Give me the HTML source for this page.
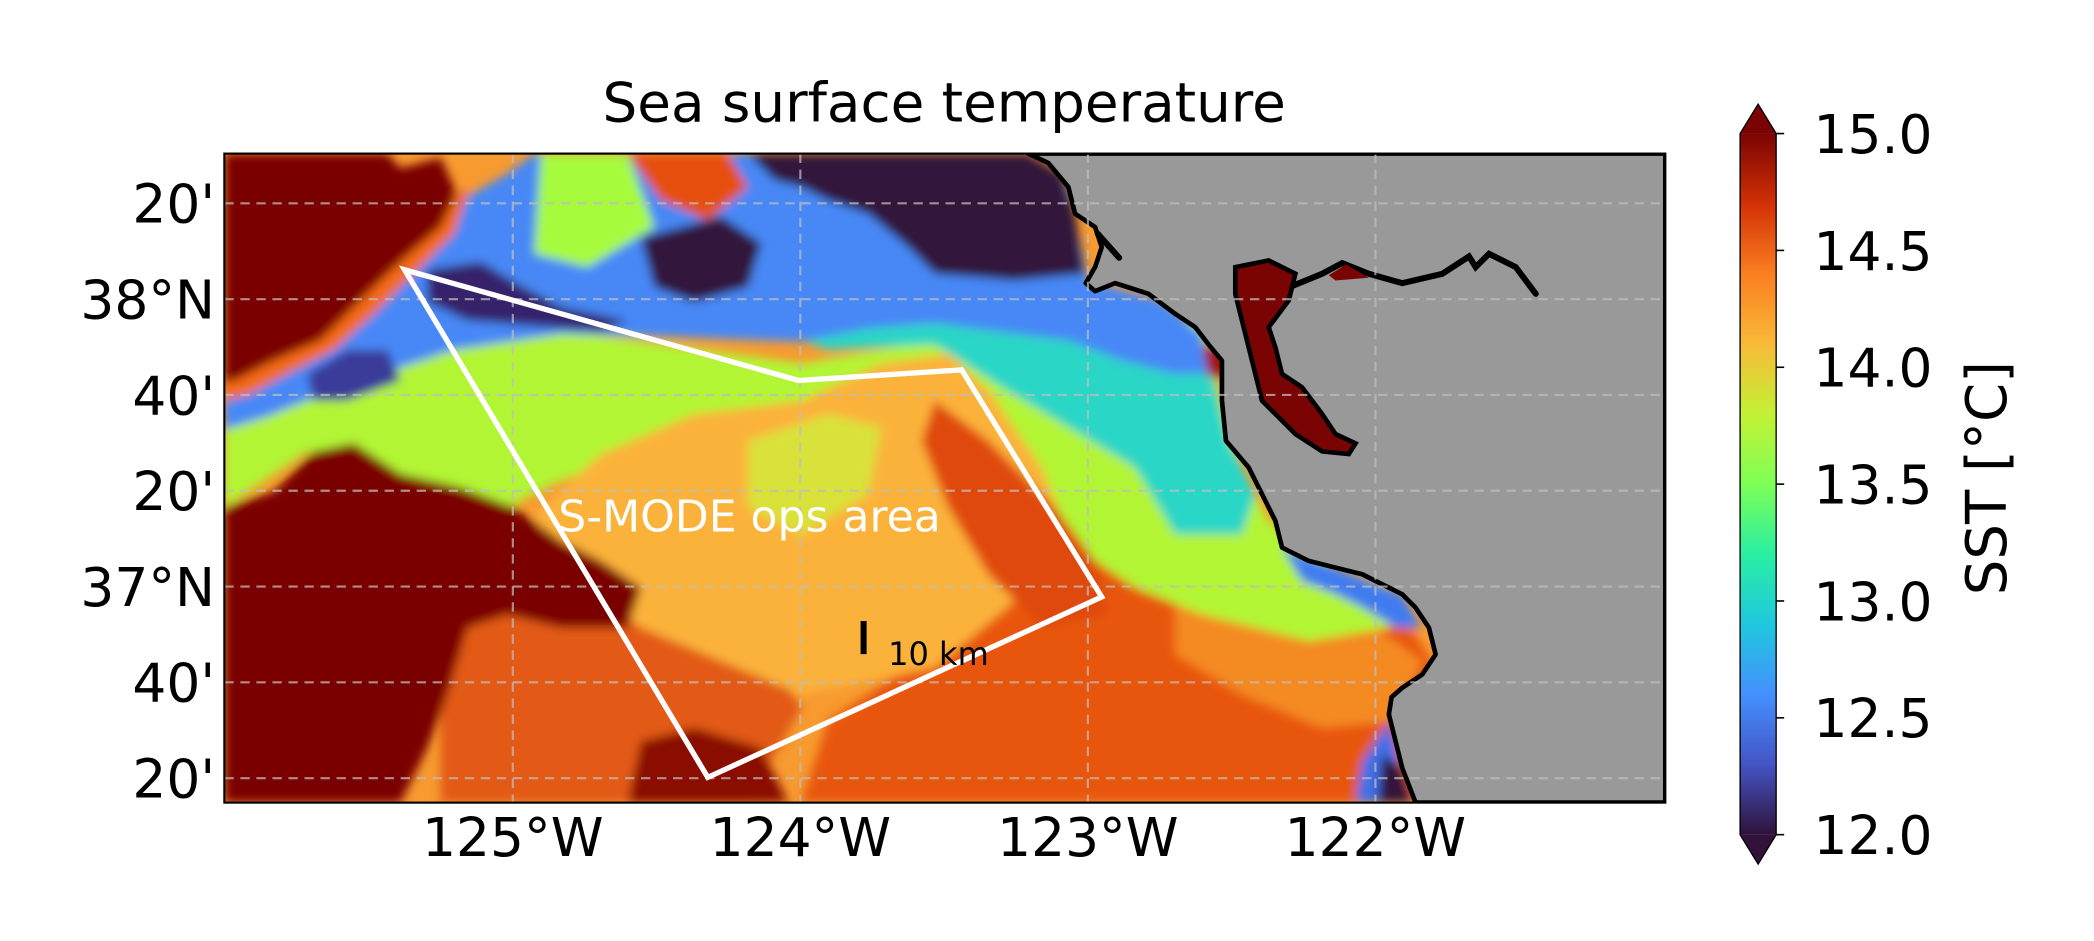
<!DOCTYPE html>
<html><head><meta charset="utf-8"><style>
html,body{margin:0;padding:0;background:#fff;}
svg{display:block;font-family:"DejaVu Sans","Liberation Sans",sans-serif;}
</style></head><body>
<svg id="fig" width="2094" height="941" viewBox="0 0 1568 704.6" xmlns="http://www.w3.org/2000/svg">
<defs>
  <clipPath id="axclip"><rect x="168" y="115" width="1079" height="486"/></clipPath>
  <filter id="blur" x="-5%" y="-5%" width="110%" height="110%"><feGaussianBlur stdDeviation="3.5"/></filter>
  <linearGradient id="turbo" x1="0" y1="1" x2="0" y2="0">
    <stop offset="0" stop-color="#30123b"/><stop offset="0.1" stop-color="#4454c4"/>
    <stop offset="0.2" stop-color="#4490fe"/><stop offset="0.3" stop-color="#1fc8de"/>
    <stop offset="0.4" stop-color="#29efa2"/><stop offset="0.5" stop-color="#7eff55"/>
    <stop offset="0.6" stop-color="#c3f134"/><stop offset="0.7" stop-color="#f9ba38"/>
    <stop offset="0.8" stop-color="#fb7e21"/><stop offset="0.9" stop-color="#d23105"/>
    <stop offset="1" stop-color="#7a0403"/>
  </linearGradient>
</defs>
<text x="707" y="91" font-size="41" text-anchor="middle" fill="#000">Sea surface temperature</text>

<g clip-path="url(#axclip)">
 <rect x="168" y="115" width="1079" height="486" fill="#f79a30"/>
 <g filter="url(#blur)">
  <polygon fill="#e8560e" points="700,300 760,330 800,380 840,400 900,420 980,440 1050,460 1075,500 1050,540 1060,601 600,601 620,540 680,500 720,460 700,400 680,340"/>
  <polygon fill="#f48a24" points="880,445 960,455 1030,470 1065,495 1045,540 990,545 930,520 880,490"/>
  <polygon fill="#e25a12" points="330,450 480,440 560,470 600,530 560,601 330,601"/>
  <polygon fill="#b2f536" points="168,318 230,292 300,258 400,245 500,258 600,272 700,255 800,235 900,240 915,300 930,350 950,390 1000,425 1040,440 1060,460 1040,470 980,480 900,460 850,440 820,420 790,380 750,330 720,300 650,290 600,310 500,330 420,360 380,380 300,355 230,338 168,380"/>
  <polygon fill="#fbb23a" points="400,385 450,340 520,310 600,300 660,272 710,265 740,292 780,350 800,400 760,450 700,500 600,520 480,470 420,425"/>
  <polygon fill="#d9e23a" points="560,330 620,310 660,320 650,370 600,400 560,380"/>
  <polygon fill="#e04a0b" points="700,300 740,330 790,380 820,420 830,460 780,470 740,430 710,380 690,330"/>
  <polygon fill="#7a0403" points="168,380 205,368 235,338 265,332 300,355 345,365 385,380 420,405 450,420 480,440 470,470 420,470 380,460 350,470 335,520 320,560 300,601 168,601"/>
  <polygon fill="#8a0a03" points="480,555 520,545 570,560 590,601 470,601"/>
  <polygon fill="#2bd6c6" points="560,240 650,230 800,220 880,240 905,270 920,330 940,370 930,400 880,400 850,350 800,320 750,290 700,258 620,262"/>
  <polygon fill="#4688f6" points="168,292 200,276 250,250 300,205 330,175 345,150 380,130 400,115 770,115 800,140 815,210 870,225 900,250 905,280 880,280 840,270 800,255 760,250 700,242 650,246 600,256 500,252 420,250 340,262 280,282 230,300 200,312 168,322"/>
  <polygon fill="#7a0403" points="168,115 290,115 300,126 330,118 342,145 330,170 300,196 270,225 240,255 205,270 180,283 168,288"/>
  <polygon fill="#f46a18" points="168,288 180,283 205,270 240,255 270,225 300,196 330,170 342,145 352,140 340,175 310,205 280,235 250,262 215,280 185,296 168,300"/>
  <polygon fill="#a7fb3e" points="405,115 470,115 490,170 440,200 400,190"/>
  <polygon fill="#e65010" points="470,115 545,115 560,140 530,165 495,150"/>
  <polygon fill="#30123b" points="560,115 770,115 795,130 805,160 812,205 760,210 700,205 680,185 650,160 620,150 600,140 580,135"/>
  <polygon fill="#30123b" points="480,178 540,162 570,182 560,215 520,226 490,215"/>
  <polygon fill="#35226a" points="320,202 360,196 390,214 420,230 470,240 450,248 350,240 320,226"/>
  <polygon fill="#3a3a9a" points="230,280 260,262 290,262 300,285 260,300 235,300"/>
  <polygon fill="#3f7cf0" points="960,410 1000,425 1050,445 1065,470 1045,470 1020,455 1000,445 975,435"/>
  <polygon fill="#3f6fe8" points="1040,540 1050,580 1058,601 1015,601 1020,570"/>
  <polygon fill="#30123b" points="1035,565 1050,575 1058,601 1032,601"/>
  <polygon fill="#a01505" points="900,258 918,262 920,285 905,282"/>
 </g>
 <polygon fill="#999999" stroke="#000" stroke-width="3.5" stroke-linejoin="round" points="770,115 785,122 800,140 805,160 820,170 825,185 820,200 813,212 820,218 835,212 860,220 880,235 895,245 905,258 915,270 915,300 918,330 935,350 945,370 955,390 960,410 980,420 1000,425 1020,430 1040,440 1050,445 1060,455 1070,470 1075,490 1065,505 1050,515 1042,522 1040,535 1045,555 1050,575 1060,601 1247,601 1247,115"/>
 <polygon fill="#7a0403" stroke="#000" stroke-width="3.5" points="925,200 950,195 970,205 965,225 950,245 955,260 960,280 975,290 990,310 1000,325 1015,332 1010,340 990,338 970,325 955,310 945,300 940,280 935,260 930,240 925,220"/>
 <polyline fill="none" stroke="#000" stroke-width="4.5" stroke-linecap="round" points="968,214 990,205 1005,197 1025,205 1050,212 1080,205 1100,192 1105,200 1115,190 1135,200 1150,220"/>
 <polygon fill="#7a0403" points="995,206 1008,198 1025,208 1000,210"/>
 <line x1="822" y1="175" x2="838" y2="193" stroke="#000" stroke-width="4.5" stroke-linecap="round"/>
 <g id="grid"></g>
</g>
<rect x="168" y="115" width="1079" height="486" fill="none" stroke="#000" stroke-width="1.6"/>
<g id="ops"></g>
<g id="ticks"></g>
<g id="cbar"></g>
<text x="0" y="0" font-size="42" text-anchor="middle" transform="translate(1502,358) rotate(-90)">SST [°C]</text>

<script>
const lonTicks = [-125, -124, -123, -122];
const lonLabels = ['125°W', '124°W', '123°W', '122°W'];
const latTicks = [38 + 20/60, 38, 37 + 40/60, 37 + 20/60, 37, 36 + 40/60, 36 + 20/60];
const latLabels = ["20'", "38°N", "40'", "20'", "37°N", "40'", "20'"];
const opsLon = [-125.376, -124.006, -123.439, -122.952, -124.322];
const opsLat = [38.102, 37.717, 37.754, 36.964, 36.336];
const scaleLon = [-123.78];
const scaleLat = [36.88, 36.765];
const cbTicks = [12.0, 12.5, 13.0, 13.5, 14.0, 14.5, 15.0];
const cbLabels = ['12.0', '12.5', '13.0', '13.5', '14.0', '14.5', '15.0'];

const NS = 'http://www.w3.org/2000/svg';
function X(lon){ return 384 + (lon + 125) * 215.3; }
function Y(lat){ return 224 - (lat - 38) * 215.2; }
function CB(v){ return 625 - (v - 12) / 3 * 525; }
function mk(tag, attrs, parent){ const e = document.createElementNS(NS, tag); for (const k in attrs) e.setAttribute(k, attrs[k]); parent.appendChild(e); return e; }

const grid = document.getElementById('grid');
lonTicks.forEach(function(lon){
  const l = mk('line', {x1: X(lon), x2: X(lon), y1: 115, y2: 601, stroke: 'rgba(190,190,190,0.75)', 'stroke-width': 1.6, 'stroke-dasharray': '7 5'}, grid);
  
  
});
latTicks.forEach(function(lat){
  const l = mk('line', {x1: 168, x2: 1247, y1: Y(lat), y2: Y(lat), stroke: 'rgba(190,190,190,0.75)', 'stroke-width': 1.6, 'stroke-dasharray': '7 5'}, grid);
  
  
});

const ticks = document.getElementById('ticks');
lonTicks.forEach(function(lon, i){
  const t = mk('text', {x: X(lon), y: 641, 'font-size': 40, 'text-anchor': 'middle'}, ticks);
  t.textContent = lonLabels[i];
  
  
});
latTicks.forEach(function(lat, i){
  const t = mk('text', {x: 161, y: Y(lat) + 14.5, 'font-size': 40, 'text-anchor': 'end'}, ticks);
  t.textContent = latLabels[i];
  
  
});

const ops = document.getElementById('ops');
const pts = opsLon.map(function(lon, i){ return X(lon) + ',' + Y(opsLat[i]); }).join(' ');
const poly = mk('polygon', {points: pts, fill: 'none', stroke: '#fff', 'stroke-width': 4, 'stroke-linejoin': 'miter'}, ops);


const ol = mk('text', {x: 418, y: 398, 'font-size': 33, fill: '#fff'}, ops);
ol.textContent = 'S-MODE ops area';


const sb = mk('line', {x1: X(scaleLon[0]), x2: X(scaleLon[0]), y1: Y(scaleLat[0]), y2: Y(scaleLat[1]), stroke: '#000', 'stroke-width': 4.5}, ops);


const sl = mk('text', {x: 665, y: 498, 'font-size': 24, fill: '#000'}, ops);
sl.textContent = '10 km';



const cbar = document.getElementById('cbar');
const cr = mk('rect', {x: 1303, y: CB(15), width: 27, height: CB(12) - CB(15), fill: 'url(#turbo)'}, cbar);


const tt = mk('polygon', {points: '1303,' + CB(15) + ' 1330,' + CB(15) + ' 1316.5,' + (CB(15) - 22), fill: '#7a0403'}, cbar);


const bt = mk('polygon', {points: '1303,' + CB(12) + ' 1330,' + CB(12) + ' 1316.5,' + (CB(12) + 22), fill: '#30123b'}, cbar);


const co = mk('polygon', {points: '1316.5,' + (CB(15) - 22) + ' 1330,' + CB(15) + ' 1330,' + CB(12) + ' 1316.5,' + (CB(12) + 22) + ' 1303,' + CB(12) + ' 1303,' + CB(15), fill: 'none', stroke: '#000', 'stroke-width': 1}, cbar);


cbTicks.forEach(function(v, i){
  const tk = mk('line', {x1: 1330, x2: 1336, y1: CB(v), y2: CB(v), stroke: '#000', 'stroke-width': 1.2}, cbar);
  
  
  const t = mk('text', {x: 1358, y: CB(v) + 14.5, 'font-size': 40}, cbar);
  t.textContent = cbLabels[i];
  
  
});
</script>
</svg>
</body></html>
